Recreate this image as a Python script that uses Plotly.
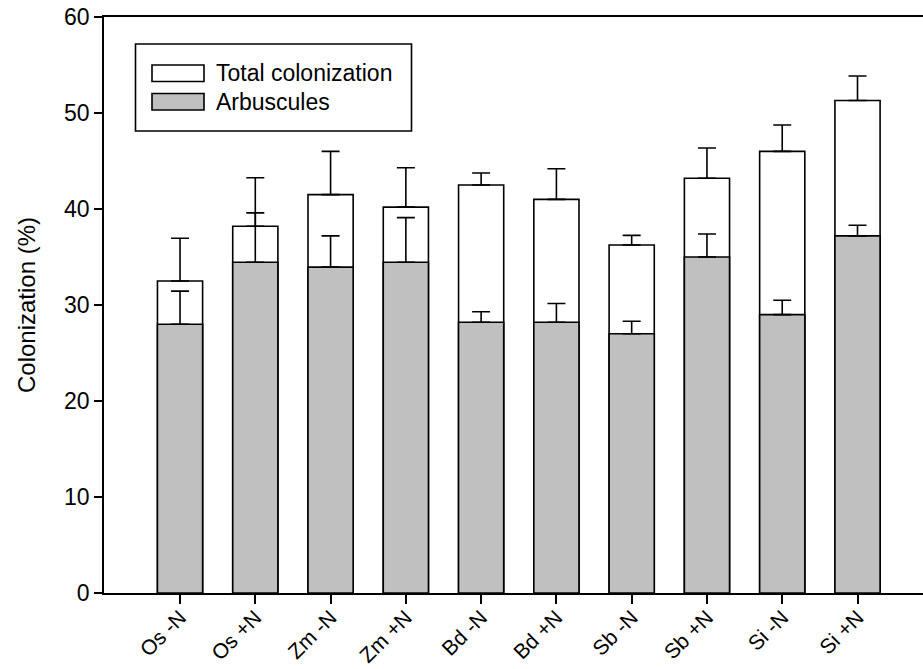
import plotly.graph_objects as go

# Mycorrhizal colonization by host and nitrogen treatment
categories = ["Os -N", "Os +N", "Zm -N", "Zm +N", "Bd -N",
              "Bd +N", "Sb -N", "Sb +N", "Si -N", "Si +N"]
total_colonization = [32.5, 38.2, 41.5, 40.2, 42.5, 41.0, 36.25, 43.2, 46.0, 51.3]
total_err = [4.45, 5.05, 4.5, 4.1, 1.25, 3.2, 1.0, 3.15, 2.75, 2.55]
arbuscules = [28.0, 34.45, 33.95, 34.45, 28.2, 28.2, 27.0, 35.0, 29.0, 37.2]
arbuscules_err = [3.45, 5.15, 3.25, 4.65, 1.1, 1.95, 1.3, 2.4, 1.5, 1.1]
y_ticks = [0, 10, 20, 30, 40, 50, 60]

W, H = 923, 669
ML, MR, MT, MB = 104, 0, 17, 76
FONT = "Arial, Liberation Sans, Helvetica, sans-serif"
GRAY = "#c0c0c0"
LW = 1.6

x_idx = list(range(len(categories)))


def err_style(values):
    return dict(type="data", symmetric=False, array=values,
                arrayminus=[0] * len(values), color="black",
                thickness=LW, width=9)


fig = go.Figure()
fig.add_trace(go.Bar(
    x=x_idx, y=total_colonization, name="Total colonization", width=0.6,
    marker=dict(color="white", line=dict(color="black", width=LW)),
    error_y=err_style(total_err), showlegend=False,
))
fig.add_trace(go.Bar(
    x=x_idx, y=arbuscules, name="Arbuscules", width=0.6,
    marker=dict(color=GRAY, line=dict(color="black", width=LW)),
    error_y=err_style(arbuscules_err), showlegend=False,
))

# Legend box drawn in pixel space, converted to paper coordinates
pw, ph = W - ML - MR, H - MT - MB


def px(x):
    return (x - ML) / pw


def py(y):
    return (H - MB - y) / ph


shapes = [
    dict(type="rect", xref="paper", yref="paper",
         x0=px(135.5), x1=px(411.5), y0=py(131), y1=py(44),
         line=dict(color="black", width=LW), fillcolor="white", layer="above"),
    dict(type="rect", xref="paper", yref="paper",
         x0=px(152), x1=px(204), y0=py(81.5), y1=py(65),
         line=dict(color="black", width=LW), fillcolor="white", layer="above"),
    dict(type="rect", xref="paper", yref="paper",
         x0=px(152), x1=px(204), y0=py(110), y1=py(93.5),
         line=dict(color="black", width=LW), fillcolor=GRAY, layer="above"),
]
annotations = [
    dict(xref="paper", yref="paper", x=px(214), y=py(73.3), text="Total colonization",
         showarrow=False, xanchor="left", yanchor="middle",
         font=dict(family=FONT, size=23, color="black")),
    dict(xref="paper", yref="paper", x=px(214), y=py(101.7), text="Arbuscules",
         showarrow=False, xanchor="left", yanchor="middle",
         font=dict(family=FONT, size=23, color="black")),
]

fig.update_layout(
    width=W, height=H,
    margin=dict(l=ML, r=MR, t=MT, b=MB),
    barmode="overlay",
    plot_bgcolor="white", paper_bgcolor="white",
    font=dict(family=FONT, color="black"),
    shapes=shapes, annotations=annotations,
    xaxis=dict(
        range=[-1.01, 9.87], tickmode="array", tickvals=x_idx, ticktext=categories,
        tickangle=-45, ticks="outside", ticklen=9, tickwidth=LW, tickcolor="black",
        ticklabelstandoff=-7,
        showline=True, linecolor="black", linewidth=LW, mirror=True,
        showgrid=False, zeroline=False, tickfont=dict(family=FONT, size=21),
        automargin=False,
    ),
    yaxis=dict(
        range=[0, 60], tickmode="array", tickvals=y_ticks,
        ticks="outside", ticklen=8, tickwidth=LW, tickcolor="black",
        showline=True, linecolor="black", linewidth=LW,
        showgrid=False, zeroline=False, tickfont=dict(family=FONT, size=23),
        title=dict(text="Colonization (%)", font=dict(family=FONT, size=24), standoff=22),
        automargin=False,
    ),
)

fig.write_html("out.html")
